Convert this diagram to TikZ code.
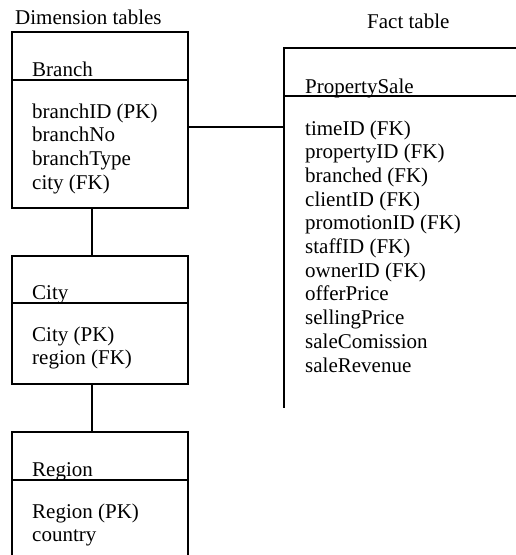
\documentclass[tikz,border=0pt]{standalone}
\usepackage{fontspec}
\setmainfont{Liberation Serif}
\begin{document}
\begin{tikzpicture}[x=1pt,y=-1pt,
  box/.style={draw, line width=2pt, minimum width=176pt, inner sep=0pt, outer sep=0pt, anchor=north west},
  bare/.style={inner sep=0pt, outer sep=0pt, anchor=north west},
  txt/.style={inner sep=0pt, anchor=base west, font=\fontsize{21}{23.7}\selectfont},
  link/.style={line width=2pt}]
\clip (0,0) rectangle (516,555);

% captions
\node[txt] (dimcap) at (15,24) {Dimension tables};
\node[txt] (factcap) at (367,28) {Fact table};

% Branch dimension table
\node[box, minimum height=48pt] (branchhead) at (12,32) {};
\node[box, minimum height=128pt] (branchbody) at (12,80) {};
\node[txt] (branchtitle) at (32,76) {Branch};
\foreach \t [count=\i] in {branchID (PK), branchNo, branchType, city (FK)}
  \node[txt] (branch\i) at (32,{118+(\i-1)*23.7}) {\t};

% City dimension table
\node[box, minimum height=47pt] (cityhead) at (12,256) {};
\node[box, minimum height=81pt] (citybody) at (12,303) {};
\node[txt] (citytitle) at (32,299) {City};
\foreach \t [count=\i] in {City (PK), region (FK)}
  \node[txt] (city\i) at (32,{341+(\i-1)*23.7}) {\t};

% Region dimension table (runs past the lower edge)
\node[box, minimum height=48pt] (regionhead) at (12,432) {};
\node[box, minimum height=160pt] (regionbody) at (12,480) {};
\node[txt] (regiontitle) at (32,476) {Region};
\foreach \t [count=\i] in {Region (PK), country}
  \node[txt] (region\i) at (32,{518+(\i-1)*23.7}) {\t};

% PropertySale fact table (open to the right and below)
\node[bare, minimum width=300pt, minimum height=48pt] (pshead) at (284,48) {};
\node[bare, minimum width=300pt, minimum height=312pt] (psbody) at (284,96) {};
\draw[link] (pshead.north east) -- (pshead.north west) -- (psbody.south west);
\draw[link] (psbody.north west) -- (psbody.north east);
\node[txt] (pstitle) at (305,93) {PropertySale};
\foreach \t [count=\i] in {timeID (FK), propertyID (FK), branched (FK), clientID (FK),
    promotionID (FK), staffID (FK), ownerID (FK), offerPrice, sellingPrice,
    saleComission, saleRevenue}
  \node[txt] (ps\i) at (305,{135+(\i-1)*23.7}) {\t};

% relationships
\draw[link] ([yshift=17pt]branchbody.east) -- ([yshift=17pt]branchbody.east -| psbody.west);
\draw[link] ([xshift=-8pt]branchbody.south) -- ([xshift=-8pt]cityhead.north);
\draw[link] ([xshift=-8pt]citybody.south) -- ([xshift=-8pt]regionhead.north);
\end{tikzpicture}
\end{document}
